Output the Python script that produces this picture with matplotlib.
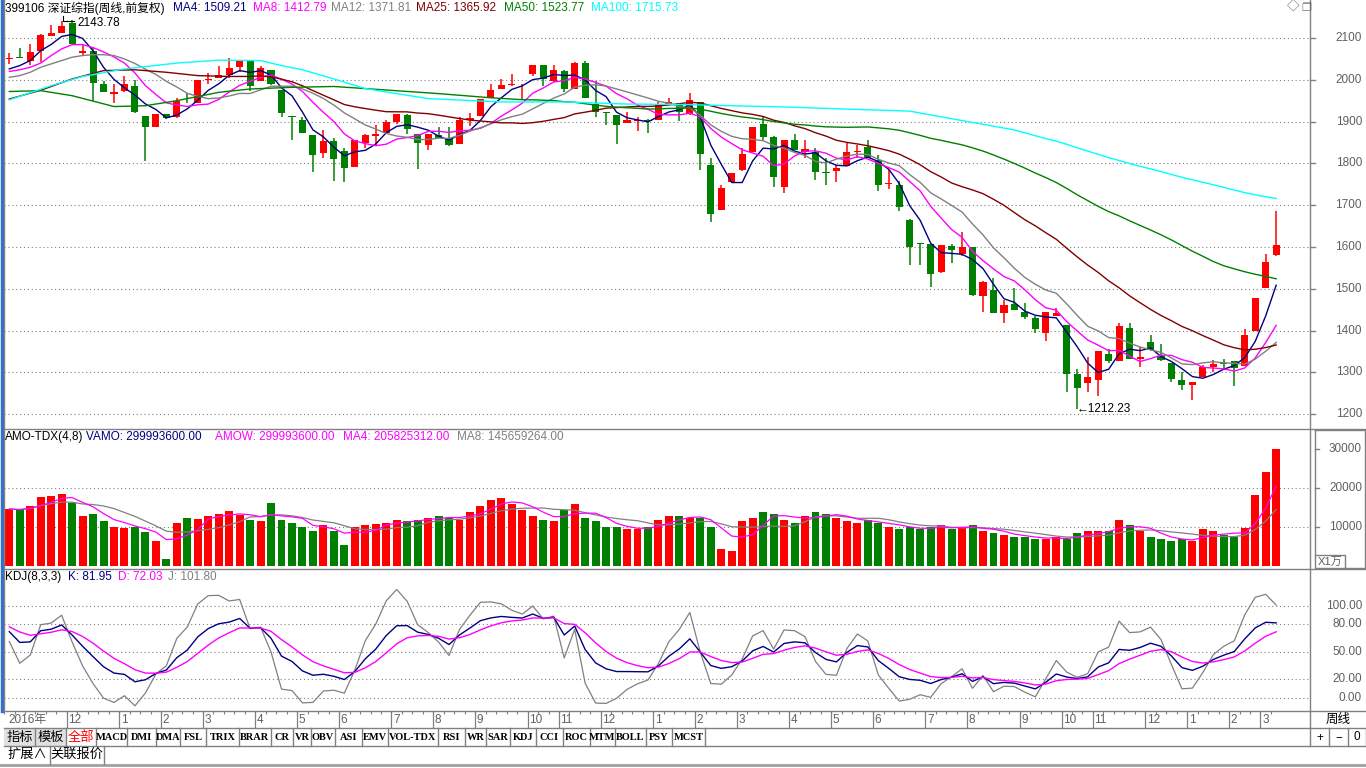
import matplotlib
matplotlib.use('Agg')
import matplotlib.pyplot as plt
import matplotlib.transforms as mtrans
import numpy as np
import pandas as pd

W, H = 1366, 768
FONTS = ['Liberation Sans', 'Noto Sans CJK SC', 'DejaVu Sans']
plt.rcParams['font.family'] = FONTS

# weekly OHLC, 深证综指, 2016-10-21 .. 2019-03-08
opens = [2049, 2053, 2046, 2068, 2104, 2111, 2136, 2063, 2070, 1990,
         1965, 1973, 1986, 1914, 1888, 1919, 1911, 1947, 1944, 2000,
         2005, 2012, 2030, 2044, 1997, 2024, 1976, 1914, 1903, 1867,
         1825, 1854, 1829, 1792, 1849, 1865, 1873, 1899, 1915, 1871,
         1844, 1869, 1860, 1846, 1903, 1913, 1957, 1977, 1988, 1989,
         2013, 2036, 1998, 2021, 1979, 2041, 1943, 1921, 1915, 1897,
         1901, 1903, 1905, 1941, 1945, 1919, 1947, 1796, 1689, 1756,
         1784, 1828, 1895, 1862, 1744, 1857, 1828, 1828, 1779, 1783,
         1794, 1828, 1840, 1808, 1751, 1748, 1664, 1609, 1606, 1541,
         1602, 1583, 1599, 1482, 1498, 1442, 1463, 1445, 1431, 1395,
         1435, 1413, 1297, 1275, 1281, 1345, 1328, 1407, 1331, 1373,
         1339, 1323, 1281, 1269, 1288, 1313, 1322, 1327, 1315, 1399,
         1501, 1581]
highs = [2063, 2076, 2086, 2110, 2132, 2141, 2143.78, 2083, 2079, 1997,
         1990, 2010, 2000, 1914, 1917, 1919, 1957, 1968, 2000, 2017,
         2032, 2052, 2044, 2046, 2034, 2024, 1976, 1914, 1911, 1867,
         1879, 1860, 1836, 1857, 1871, 1891, 1903, 1917, 1917, 1871,
         1871, 1886, 1887, 1911, 1921, 1955, 1990, 2002, 2014, 1990,
         2036, 2036, 2036, 2024, 2042, 2046, 1998, 1921, 1915, 1922,
         1911, 1907, 1947, 1957, 1945, 1968, 1947, 1812, 1748, 1778,
         1836, 1886, 1911, 1865, 1856, 1870, 1857, 1836, 1812, 1796,
         1849, 1844, 1856, 1820, 1784, 1759, 1666, 1609, 1608, 1604,
         1608, 1636, 1599, 1519, 1525, 1473, 1501, 1466, 1434, 1445,
         1455, 1413, 1309, 1336, 1351, 1357, 1417, 1417, 1361, 1389,
         1367, 1323, 1301, 1277, 1317, 1329, 1333, 1327, 1403, 1477,
         1583, 1687]
lows = [2038, 2052, 2036, 2042, 2104, 2111, 2086, 2059, 1949, 1970,
        1944, 1972, 1920, 1806, 1888, 1907, 1908, 1944, 1944, 1989,
        2005, 2005, 2018, 1974, 1997, 1987, 1911, 1855, 1872, 1779,
        1814, 1759, 1756, 1792, 1836, 1844, 1873, 1894, 1871, 1786,
        1833, 1860, 1841, 1846, 1889, 1913, 1957, 1977, 1984, 1955,
        2008, 1984, 1994, 1971, 1979, 1956, 1911, 1891, 1846, 1897,
        1878, 1873, 1903, 1939, 1902, 1915, 1784, 1661, 1689, 1756,
        1783, 1828, 1856, 1743, 1729, 1832, 1812, 1760, 1748, 1756,
        1794, 1812, 1812, 1735, 1738, 1687, 1557, 1557, 1505, 1537,
        1562, 1578, 1482, 1445, 1441, 1419, 1449, 1427, 1395, 1375,
        1435, 1253, 1212.23, 1253, 1243, 1323, 1328, 1331, 1312, 1351,
        1327, 1277, 1257, 1233, 1288, 1301, 1305, 1267, 1315, 1399,
        1501, 1578]
closes = [2052, 2052, 2067, 2108, 2111, 2129, 2086, 2070, 1992, 1972,
          1970, 1989, 1923, 1887, 1917, 1909, 1950, 1946, 2000, 2003,
          2012, 2029, 2044, 1986, 2028, 1989, 1920, 1910, 1872, 1819,
          1853, 1811, 1790, 1857, 1867, 1871, 1899, 1917, 1883, 1848,
          1870, 1860, 1844, 1903, 1909, 1955, 1976, 1988, 1989, 1989,
          2036, 2002, 2024, 1979, 2040, 1956, 1923, 1920, 1891, 1903,
          1902, 1902, 1941, 1947, 1923, 1951, 1822, 1679, 1740, 1776,
          1822, 1886, 1862, 1768, 1856, 1832, 1834, 1780, 1778, 1790,
          1828, 1830, 1812, 1748, 1753, 1695, 1599, 1608, 1535, 1604,
          1592, 1599, 1485, 1517, 1442, 1461, 1450, 1433, 1403, 1445,
          1441, 1296, 1263, 1289, 1351, 1327, 1411, 1333, 1337, 1353,
          1329, 1285, 1269, 1277, 1313, 1321, 1320, 1311, 1389, 1477,
          1564, 1604]
# turnover, unit 1万
amount = [14700, 14400, 15400, 17800, 18000, 18500, 16200, 12900, 13400, 11600,
          10000, 9800, 10000, 8800, 6500, 2000, 11000, 12500, 12200, 12800,
          13500, 14200, 13200, 12000, 11500, 16200, 12000, 11000, 10000, 9000,
          10500, 9000, 5500, 10000, 10500, 10800, 11000, 12000, 11500, 12000,
          12500, 13000, 12500, 12000, 14000, 15500, 17000, 17500, 16000, 14500,
          13000, 12000, 11500, 14500, 16000, 12500, 11500, 10000, 10000, 9500,
          9500, 10000, 12000, 12800, 12800, 12500, 12500, 10000, 4500, 4000,
          11500, 12500, 14000, 13500, 12000, 11000, 13000, 14000, 13500, 12500,
          11500, 11000, 12000, 11000, 10000, 9500, 10000, 9500, 10000, 10500,
          9500, 10000, 10500, 9000, 8500, 8000, 7500, 7500, 7000, 7000,
          7500, 7000, 8500, 9000, 9000, 9000, 12000, 10500, 9000, 7500,
          7000, 6500, 7000, 6500, 9500, 9000, 8000, 7500, 9800, 18300,
          24231, 29999.36]

# moving-average values read off the chart where the window is not yet full
ma4_head = [2026, 2034, 2046]
ma8_head = [2020, 2024, 2030, 2040, 2058, 2074, 2084]
ma12_head = [2006, 2010, 2018, 2030, 2038, 2046, 2054, 2058, 2060, 2060, 2058]
ma25_head_idx = [0, 3, 6, 9, 12, 15, 18, 21, 23]
ma25_head = [1954, 1975, 2002, 2022, 2024, 2018, 2010, 2008, 2008]
ma50_head_idx = [0, 3, 6, 10, 13, 16, 20, 23, 27, 31, 34, 41, 46]
ma50_head = [1972, 1974, 1962, 1936, 1938, 1950, 1970, 1978, 1982, 1984, 1979, 1967, 1957]
ma100_head_idx = [0, 4, 7, 11, 16, 20, 24, 26, 28, 31, 34, 40, 47, 53, 59, 64, 74, 86, 96]
ma100_head = [1952, 1986, 2008, 2026, 2040, 2047, 2046, 2034, 2024, 2002,
              1979, 1955, 1947, 1947, 1942, 1941, 1935, 1925, 1880]

month_labels = ['12', '1', '2', '3', '4', '5', '6', '7', '8', '9', '10', '11', '12',
                '1', '2', '3', '4', '5', '6', '7', '8', '9', '10', '11', '12',
                '1', '2', '3']
month_pos = [6, 11, 15, 19, 24, 28, 32, 37, 41, 45, 50, 53, 57,
             62, 66, 70, 75, 79, 83, 88, 92, 97, 101, 104, 109,
             113, 117, 120]

price_ticks = [2100, 2000, 1900, 1800, 1700, 1600, 1500, 1400, 1300, 1200]
vol_ticks = [30000, 20000, 10000]
kdj_ticks = [100, 80, 50, 20, 0]

RED = '#FF0000'
GREEN = '#008000'
GRID = '#808080'
AXTXT = '#606060'

o = np.array(opens, float)
h = np.array(highs, float)
l = np.array(lows, float)
c = np.array(closes, float)
v = np.array(amount, float)
n = len(c)
x = np.arange(n)
col = np.where(c >= o, RED, GREEN)


def box(x0, y0, x1, y1):
    return [x0 / W, 1 - y1 / H, (x1 - x0) / W, (y1 - y0) / H]


def ma_line(window, head_idx, head_vals):
    full = pd.Series(c).rolling(window).mean().values
    xs = list(head_idx) + list(range(window - 1, n))
    ys = list(head_vals) + list(full[window - 1:])
    return xs, ys


def kdj(n_=8, m1=3, m2=3):
    llv = pd.Series(l).rolling(n_, min_periods=1).min().values
    hhv = pd.Series(h).rolling(n_, min_periods=1).max().values
    rsv = (c - llv) / (hhv - llv) * 100
    k, d = [], []
    kp, dp = 80.0, 80.0
    for r in rsv:
        kp = (r + (m1 - 1) * kp) / m1
        dp = (kp + (m2 - 1) * dp) / m2
        k.append(kp)
        d.append(dp)
    k = np.array(k)
    d = np.array(d)
    return k, d, 3 * k - 2 * d


# x pixel = 9.3 + i * 10.47
XL = ((4 - 9.3) / 10.47, (1310 - 9.3) / 10.47)

fig = plt.figure(figsize=(W / 100, H / 100), dpi=100)
fig.patch.set_facecolor('white')

# ---------------- price panel
ax = fig.add_axes(box(4, 0, 1310, 428))
ax.set_xlim(*XL)
ax.set_ylim(2100 - 390 / 0.418, 2100 + 38 / 0.418)
ax.axis('off')
for t in price_ticks:
    ax.axhline(t, color=GRID, lw=0.8, ls=(0, (1, 2.5)), zorder=0)

lines = [
    (4, list(range(len(ma4_head))), ma4_head, '#000080'),
    (8, list(range(len(ma8_head))), ma8_head, '#FF00FF'),
    (12, list(range(len(ma12_head))), ma12_head, '#808080'),
    (25, ma25_head_idx, ma25_head, '#800000'),
    (50, ma50_head_idx, ma50_head, '#008000'),
    (100, ma100_head_idx, ma100_head, '#00FFFF'),
]
ax.vlines(x, l, h, colors=col, lw=1.1, zorder=2)
body_lo = np.minimum(o, c)
body_h = np.maximum(np.abs(c - o), 2.0)
ax.bar(x, body_h, bottom=body_lo, width=0.68, color=col, linewidth=0, zorder=3)
for w, hi, hv, lc in lines:
    xs, ys = ma_line(w, hi, hv)
    ax.plot(xs, ys, color=lc, lw=1.0, zorder=4)

tr = mtrans.blended_transform_factory(ax.transAxes, ax.transData)
for t in price_ticks:
    ax.text(1 + 52 / 1306, t, '%d' % t, transform=tr, ha='right', va='center',
            fontsize=8.5, color=AXTXT, clip_on=False)
    ax.plot([1, 1 + 5 / 1306], [t, t], transform=tr, color=GRID, lw=1, clip_on=False)

# extremes
i_hi = int(np.argmax(h))
ax.plot([i_hi - 0.9, i_hi - 0.9, i_hi + 0.2], [h[i_hi] + 10, h[i_hi] - 2, h[i_hi] - 2],
        color='black', lw=0.8, zorder=5)
ax.text(i_hi + 0.55, h[i_hi] - 9, '%.2f' % h[i_hi], fontsize=8.5, va='center', ha='left')
i_lo = int(np.argmin(l))
ax.text(i_lo - 0.1, l[i_lo], '\u2190%.2f' % l[i_lo], fontsize=8.5, va='center', ha='left')

# ---------------- volume panel
axv = fig.add_axes(box(4, 430, 1310, 568))
axv.set_xlim(*XL)
axv.set_ylim(30000 - 118.7 / 39 * 10000, 30000 + 19.3 / 39 * 10000)
axv.axis('off')
for t in [20000, 10000]:
    axv.axhline(t, color=GRID, lw=0.8, ls=(0, (1, 2.5)), zorder=0)
axv.bar(x, v, width=0.76, color=col, linewidth=0, zorder=2)
axv.plot(x, pd.Series(v).rolling(8, min_periods=1).mean(), color='#808080', lw=0.9, zorder=3)
axv.plot(x, pd.Series(v).rolling(4, min_periods=1).mean(), color='#FF00FF', lw=0.9, zorder=3)
trv = mtrans.blended_transform_factory(axv.transAxes, axv.transData)
for t in vol_ticks:
    axv.text(1 + 52 / 1306, t, '%d' % t, transform=trv, ha='right', va='center',
             fontsize=8.5, color=AXTXT, clip_on=False)
    axv.plot([1 + 5 / 1306, 1 + 9 / 1306], [t, t], transform=trv, color=GRID, lw=1, clip_on=False)

# ---------------- KDJ panel
axk = fig.add_axes(box(4, 570, 1310, 710))
axk.set_xlim(*XL)
axk.set_ylim(100 - 104 / 0.917, 100 + 36 / 0.917)
axk.axis('off')
for t in kdj_ticks:
    axk.axhline(t, color=GRID, lw=0.8, ls=(0, (1, 2.5)), zorder=0)
K, D, J = kdj()
axk.plot(x, J, color='#808080', lw=0.9)
axk.plot(x, K, color='#000080', lw=1.0)
axk.plot(x, D, color='#FF00FF', lw=1.0)
trk = mtrans.blended_transform_factory(axk.transAxes, axk.transData)
for t in kdj_ticks:
    axk.text(1 + 52 / 1306, t, '%.2f' % t, transform=trk, ha='right', va='center',
             fontsize=8.5, color=AXTXT, clip_on=False)

# ---------------- date row
axd = fig.add_axes(box(4, 711, 1310, 728))
axd.set_xlim(*XL)
axd.set_ylim(0, 1)
axd.axis('off')
axd.vlines(x - 0.5, 0.82, 1.0, color=GRID, lw=0.8)
for p, lab in zip(month_pos, month_labels):
    axd.vlines(p - 0.5, 0.0, 1.0, color=GRID, lw=0.9)
    axd.text(p - 0.35, 0.45, lab, fontsize=8.5, color=AXTXT, va='center', ha='left')

# ---------------- overlay: frame, headers, toolbar
ov = fig.add_axes([0, 0, 1, 1])
ov.set_xlim(0, W)
ov.set_ylim(H, 0)
ov.axis('off')
ov.patch.set_alpha(0)

gline = dict(color='#808080', lw=1.0)
ov.plot([1.5, 1.5], [0, 711], color='#3070D0', lw=2.5)
ov.plot([4, 4], [0, 711], **gline)
ov.plot([1310, 1310], [0, 746], **gline)
for yy in [429, 569, 711, 728, 746]:
    ov.plot([4, W], [yy, yy], **gline)
ov.plot([0, W], [764.5, 764.5], color='#A0A0A0', lw=2)
ov.plot([1315, 1315, 1365, 1365, 1315], [430, 568, 568, 430, 430], **gline)
ov.plot([1315, 1345, 1345], [555, 555, 568], **gline)
ov.text(1330, 562, 'X1万', fontsize=8, color=AXTXT, ha='center', va='center')

fs = 8.5
ov.text(5, 8, '399106 深证综指(周线,前复权)', fontsize=fs, va='center')
hdr = [(173, 'MA4: 1509.21', '#000080'), (253, 'MA8: 1412.79', '#FF00FF'),
       (331, 'MA12: 1371.81', '#808080'), (416, 'MA25: 1365.92', '#800000'),
       (504, 'MA50: 1523.77', '#008000'), (591, 'MA100: 1715.73', '#00FFFF')]
for xx, s, cc in hdr:
    ov.text(xx, 8, s, fontsize=fs, color=cc, va='center')
ov.text(1293, 8, '\u25c7', fontsize=9, color='#606060', ha='center', va='center')
ov.text(1306, 8, '\u2750', fontsize=8, color='#606060', ha='center', va='center')

vh = [(5, 'AMO-TDX(4,8)', 'black'), (86, 'VAMO: 299993600.00', '#000080'),
      (215, 'AMOW: 299993600.00', '#FF00FF'), (343, 'MA4: 205825312.00', '#FF00FF'),
      (457, 'MA8: 145659264.00', '#808080')]
for xx, s, cc in vh:
    ov.text(xx, 437, s, fontsize=fs, color=cc, va='center')
kh = [(5, 'KDJ(8,3,3)', 'black'), (68, 'K: 81.95', '#000080'),
      (118, 'D: 72.03', '#FF00FF'), (168, 'J: 101.80', '#808080')]
for xx, s, cc in kh:
    ov.text(xx, 577, s, fontsize=fs, color=cc, va='center')

ov.text(8, 719.5, '2016年', fontsize=fs, color=AXTXT, va='center')
ov.text(1338, 719.5, '周线', fontsize=9, color='black', ha='center', va='center')

buttons = [('指标', 4, 35), ('模板', 35, 66), ('全部', 66, 96), ('MACD', 96, 127),
           ('DMI', 127, 156), ('DMA', 156, 180), ('FSL', 180, 206), ('TRIX', 206, 239),
           ('BRAR', 239, 271), ('CR', 271, 293), ('VR', 293, 311), ('OBV', 311, 335),
           ('ASI', 335, 362), ('EMV', 362, 388), ('VOL-TDX', 388, 438), ('RSI', 438, 465),
           ('WR', 465, 486), ('SAR', 486, 510), ('KDJ', 510, 536), ('CCI', 536, 563),
           ('ROC', 563, 590), ('MTM', 590, 615), ('BOLL', 615, 646), ('PSY', 646, 672),
           ('MCST', 672, 705)]
for lab, a, b in buttons:
    if lab in ('指标', '模板'):
        ov.fill_between([a, b], 729, 746, color='#E0E0E0', lw=0)
        ov.text((a + b) / 2, 737.5, lab, fontsize=9.5, ha='center', va='center')
    elif lab == '全部':
        ov.text((a + b) / 2, 737.5, lab, fontsize=9.5, color=RED, ha='center', va='center')
    else:
        ov.text((a + b) / 2, 737.5, lab, fontsize=7.5, ha='center', va='center',
                family=['Liberation Serif', 'DejaVu Serif'], weight='bold')
    ov.plot([b, b], [728, 746], **gline)
for lab, a, b in [('扩展\u2227', 4, 50), ('关联报价', 50, 104)]:
    ov.text((a + b) / 2, 755, lab, fontsize=9.5, ha='center', va='center')
    ov.plot([b, b], [746, 764], **gline)
for lab, a, b in [('+', 1310, 1329), ('\u2212', 1329, 1348), ('0', 1348, 1366)]:
    ov.text((a + b) / 2, 737.5, lab, fontsize=8.5, ha='center', va='center')
    ov.plot([b, b], [728, 746], **gline)

fig.savefig('out.png', dpi=100)
